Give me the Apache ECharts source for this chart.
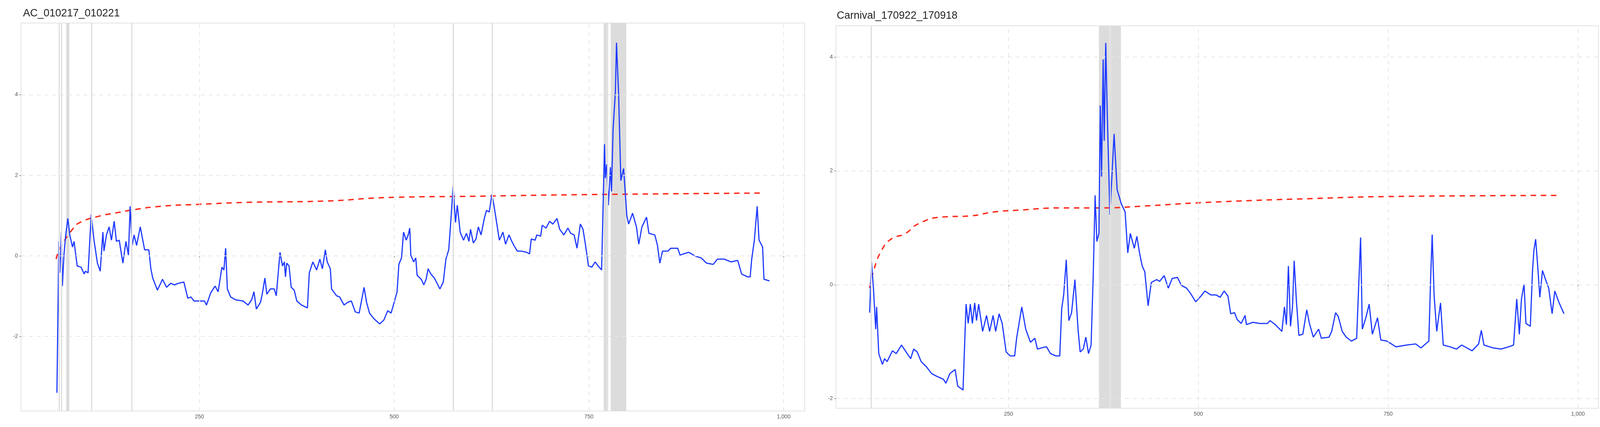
<!DOCTYPE html>
<html>
<head>
<meta charset="utf-8">
<script src="https://cdn.jsdelivr.net/npm/echarts@6/dist/echarts.min.js"></script>
<style>html,body{margin:0;padding:0;background:#fff}#chart{width:4104px;height:1093px}</style>
</head>
<body>
<div id="chart"></div>
<script>
// tick labels
var xTicks = [250, 500, 750, 1000];
var yTicks = [-2, 0, 2, 4];
var titles = ['AC_010217_010221', 'Carnival_170922_170918'];

// left panel: blue series
var leftX = [67,69.5,70.7,72.7,74,76,78,81,83.5,87,89,93,98,102,103.5,107,111,114.6,119,122.6,126,127.4,130.6,134,137,140.5,143.4,147,150,151.7,155.6,158.8,161,163.6,166,169.3,174,179.6,185,187.6,190,196,202.6,207.7,213,218,223,230,235,239,243,250,256.4,259,264.4,270,274,278.8,281.4,283.6,285.8,290,296.4,306,312.4,317,320,323,328.4,330.6,334,336.5,341,346,348.6,353.4,356.6,359,360.4,362,365,367.8,371.6,375,381,388.6,391,395.6,400.4,404.6,407.8,411.6,414,418,419.6,426,430,435.6,440.5,445,450,455,461.3,464.5,468.3,474,481.4,486.8,491.7,496,500,503.7,506,509.4,512,515.4,518,520,521.3,525,527.7,529.4,534.7,538,541,543.5,547,551.6,555,558.7,563,566.4,570,572.7,575.6,578.7,581,584.7,589,592.8,596,598,601.6,605,608,611.5,615.7,618.5,622,625.5,628,631.5,635,639.6,643,647.4,651,653.7,658,663,670,673.8,676,681,683,688,690,695,699.5,703.7,709,712.5,717.8,723,726.6,731,734.7,739,742.4,746,749.4,753.7,758,761.8,766.3,770,771,772.7,775,777.6,779,781,784,785.4,788,791,794.5,798.7,801,806,811,814,818,824,827,834.6,838,841,844.5,851.5,855,864,867,878,887,894,901,909.6,915,923.7,932.5,941,946,953.6,957,959,962.4,966,968.4,973,974.7,981.8];
var leftY = [-3.40,0.36,-0.42,0.59,-0.75,0.02,0.46,0.93,0.52,0.22,0.36,-0.25,-0.28,-0.45,-0.38,-0.42,1.03,0.39,-0.18,-0.38,0.59,0.12,0.52,0.72,0.39,0.86,0.36,0.39,0.02,-0.18,0.36,0.02,1.23,0.26,0.52,0.26,0.72,0.15,0.15,-0.32,-0.55,-0.85,-0.58,-0.78,-0.68,-0.72,-0.68,-0.65,-1.05,-1.02,-1.12,-1.12,-1.12,-1.22,-0.92,-0.75,-0.89,-0.28,-0.35,0.19,-0.82,-1.02,-1.09,-1.12,-1.22,-1.09,-0.89,-1.32,-1.15,-0.95,-0.55,-0.95,-0.82,-0.82,-0.99,0.09,-0.25,-0.15,-0.52,-0.18,-0.25,-0.78,-0.85,-1.12,-1.22,-1.29,-0.42,-0.15,-0.35,-0.08,-0.32,0.15,-0.15,-0.32,-0.82,-0.99,-1.02,-1.22,-1.15,-1.12,-1.39,-1.42,-0.78,-1.15,-1.42,-1.56,-1.69,-1.59,-1.36,-1.42,-1.15,-0.89,-0.21,-0.05,0.59,0.39,0.52,0.69,0.02,-0.15,-0.05,-0.48,-0.58,-0.72,-0.58,-0.32,-0.45,-0.55,-0.68,-0.82,-0.65,-0.08,0.15,0.86,1.73,0.83,1.26,0.59,0.39,0.56,0.36,0.66,0.32,0.42,0.72,0.52,0.93,1.13,1.09,1.53,1.26,0.83,0.39,0.59,0.29,0.52,0.36,0.26,0.12,0.12,0.09,0.05,0.42,0.39,0.52,0.49,0.76,0.69,0.86,0.79,0.93,0.66,0.52,0.69,0.56,0.52,0.19,0.79,0.66,0.22,-0.25,-0.28,-0.15,-0.25,-0.35,2.77,1.93,2.27,1.26,2.20,1.60,3.14,4.08,5.29,4.08,1.87,2.17,0.99,0.79,1.06,0.72,0.29,0.72,0.96,0.56,0.52,0.26,-0.18,0.12,0.12,0.19,0.19,0.02,0.09,-0.01,-0.05,-0.18,-0.21,-0.08,-0.08,-0.15,-0.11,-0.45,-0.52,-0.52,-0.08,0.39,1.23,0.39,0.22,-0.58,-0.62];
// left panel: red dashed threshold
var leftRedX = [66,71,87,96.6,122,141,163.6,199,250,314,410,493,601.6,742,975];
var leftRedY = [-0.08,0.19,0.66,0.83,0.99,1.06,1.14,1.23,1.28,1.33,1.36,1.45,1.48,1.52,1.56];
// left panel: grey marks
var leftLines = [70, 73, 111.5, 163, 576, 626, 774];
var leftBands = [[79, 83], [769, 773], [778, 798]];

// right panel: blue series
var rightX = [67,69.4,72,75,76.2,79,83.8,86.6,90,97,102,109,114,121,125,129.6,134.8,141.7,148.6,155.5,164,167.5,172.7,179.6,183,190,194,196.8,199.6,202.3,205.4,207.8,210.6,215.8,221,225,229.6,233,237.5,241.6,246.8,252,258,260.6,267.4,272.6,278.8,284.7,288,293.3,300,305.3,312,317.4,320,322.6,326,329.4,333,337.4,341.5,344.3,348.4,351.8,355.3,358.7,361.5,364,366.3,369,370.8,372.5,374.6,376,378,380,383.5,386.3,389,393,398.3,403.5,407,410.4,415.6,419,422.5,426,429.4,433.8,438,445,449,455,460.4,465.5,472.4,477.6,484.5,489.6,496.5,503.4,508.6,516.5,523.5,528.7,534,539,542.6,547.7,551,556.4,561.6,563.3,572,580.6,591,594.4,601.3,610,613.4,616,618.6,621.4,624,626.2,629,632.4,637.6,642.8,646.3,651.4,658.4,662,672.2,675.6,680.8,684.3,689.5,694.7,701.6,708.5,713.7,716,720.6,725,729.2,736,740.3,748.2,760.3,774.2,786.3,793.2,803.6,806,808,810.5,814,819,822.6,831.2,840,846.8,860.6,869.2,872.7,876.2,888.3,898.6,909,915.2,919.4,922.8,925.6,929,931.5,937.3,940.1,942,944.3,947,949.8,953.3,957.4,961.5,966,969.5,974.7,981.6];
var rightY = [-0.49,0.40,-0.06,-0.78,-0.39,-1.21,-1.40,-1.30,-1.35,-1.16,-1.21,-1.06,-1.16,-1.30,-1.13,-1.18,-1.35,-1.44,-1.56,-1.61,-1.66,-1.73,-1.56,-1.49,-1.78,-1.85,-0.34,-0.68,-0.34,-0.68,-0.32,-0.63,-0.34,-0.82,-0.54,-0.82,-0.54,-0.82,-0.51,-0.68,-1.18,-1.25,-1.25,-0.94,-0.39,-0.78,-1.01,-0.94,-1.13,-1.11,-1.09,-1.21,-1.25,-1.25,-0.42,-0.18,0.44,-0.63,-0.49,0.09,-0.78,-1.18,-1.13,-0.92,-1.21,-1.06,0.16,1.57,0.76,0.90,3.15,1.90,3.96,2.53,4.25,3.00,1.23,1.95,2.65,1.67,1.43,1.28,0.56,0.90,0.64,0.85,0.56,0.33,0.23,-0.37,0.04,0.09,0.06,0.16,-0.06,0.11,0.13,-0.01,-0.06,-0.15,-0.30,-0.20,-0.11,-0.18,-0.18,-0.22,-0.11,-0.20,-0.51,-0.49,-0.61,-0.68,-0.54,-0.70,-0.66,-0.68,-0.68,-0.63,-0.70,-0.82,-0.39,-0.70,0.33,-0.73,-0.39,0.42,-0.25,-0.89,-0.87,-0.44,-0.68,-0.92,-0.78,-0.94,-0.92,-0.82,-0.49,-0.56,-0.82,-0.92,-0.99,-0.94,0.83,-0.78,-0.58,-0.34,-0.87,-0.58,-0.97,-0.99,-1.09,-1.06,-1.04,-1.11,-0.99,0.13,0.88,-0.18,-0.82,-0.32,-1.06,-1.09,-1.13,-1.06,-1.16,-1.04,-0.80,-1.06,-1.11,-1.13,-1.09,-1.06,-0.25,-0.87,-0.25,0.01,-0.68,-0.73,0.23,0.61,0.80,0.33,-0.22,0.25,0.09,-0.06,-0.51,-0.11,-0.30,-0.51];
var rightRedX = [67,73,83,95,114,131,162,200,231,262,321,373,424,516,663,750,975];
var rightRedY = [-0.06,0.28,0.61,0.80,0.90,1.07,1.19,1.21,1.28,1.31,1.35,1.35,1.38,1.45,1.52,1.55,1.57];
var rightLines = [69, 384];
var rightBands = [[369, 383], [385, 398]];

function zip(xs, ys) {
  var out = [];
  for (var i = 0; i < xs.length; i++) out.push([xs[i], ys[i]]);
  return out;
}

var chart = echarts.init(document.getElementById('chart'));

var grids = [
  {left: 54, right: 2044, top: 59, bottom: 41},
  {left: 2140, right: 12, top: 66, bottom: 48}
];
var ranges = [
  {xmin: 21, xmax: 1027, ymin: -3.85, ymax: 5.78},
  {xmin: 22.6, xmax: 1027, ymin: -2.17, ymax: 4.55}
];
var panels = [
  {bx: leftX, by: leftY, rx: leftRedX, ry: leftRedY, lines: leftLines, bands: leftBands},
  {bx: rightX, by: rightY, rx: rightRedX, ry: rightRedY, lines: rightLines, bands: rightBands}
];

var gridLine = {color: '#e6e6e6', width: 2, type: [10, 10]};
var labelStyle = {color: '#555', fontSize: 14, fontFamily: 'Liberation Sans'};

var option = {
  animation: false,
  backgroundColor: '#fff',
  title: titles.map(function (t, i) {
    return {text: t, left: i === 0 ? 54 : 2137, top: i === 0 ? 16 : 22,
      textStyle: {fontSize: 27, fontWeight: 'normal', color: '#222', fontFamily: 'Liberation Sans'}};
  }),
  grid: grids.map(function (g) {
    return Object.assign({show: true, borderColor: '#e3e3e3', borderWidth: 2, backgroundColor: '#fff'}, g);
  }),
  xAxis: ranges.map(function (r, i) {
    return {type: 'value', gridIndex: i, min: r.xmin, max: r.xmax,
      axisLine: {show: false}, splitLine: {show: false},
      axisTick: {show: true, length: 5, lineStyle: {color: '#555'}, customValues: xTicks},
      axisLabel: Object.assign({customValues: xTicks, margin: 8}, labelStyle)};
  }),
  yAxis: ranges.map(function (r, i) {
    return {type: 'value', gridIndex: i, min: r.ymin, max: r.ymax,
      axisLine: {show: false}, splitLine: {show: false},
      axisTick: {show: true, length: 5, lineStyle: {color: '#555'}, customValues: yTicks},
      axisLabel: Object.assign({customValues: yTicks, margin: 8}, labelStyle)};
  }),
  series: []
};

panels.forEach(function (p, i) {
  var gridMarks = xTicks.map(function (v) { return {xAxis: v}; })
    .concat(yTicks.map(function (v) { return {yAxis: v}; }));
  // grid lines + shaded episodes
  option.series.push({
    type: 'line', xAxisIndex: i, yAxisIndex: i, data: [], silent: true,
    markLine: {symbol: 'none', silent: true, label: {show: false}, lineStyle: gridLine, data: gridMarks},
    markArea: {silent: true, itemStyle: {color: '#dcdcdc'},
      data: p.bands.map(function (b) { return [{xAxis: b[0]}, {xAxis: b[1]}]; })}
  });
  option.series.push({
    type: 'line', xAxisIndex: i, yAxisIndex: i, data: [], silent: true,
    markLine: {symbol: 'none', silent: true, label: {show: false},
      lineStyle: {color: '#dedede', width: 3, type: 'solid'},
      data: p.lines.map(function (v) { return {xAxis: v}; })}
  });
  option.series.push({
    type: 'line', xAxisIndex: i, yAxisIndex: i, data: zip(p.rx, p.ry),
    symbol: 'none', smooth: true,
    lineStyle: {color: '#ff2a1a', width: 3.5, type: [14, 12]}
  });
  option.series.push({
    type: 'line', xAxisIndex: i, yAxisIndex: i, data: zip(p.bx, p.by),
    symbol: 'none',
    lineStyle: {color: '#1f3bff', width: 3}
  });
});

chart.setOption(option);
</script>
</body>
</html>
